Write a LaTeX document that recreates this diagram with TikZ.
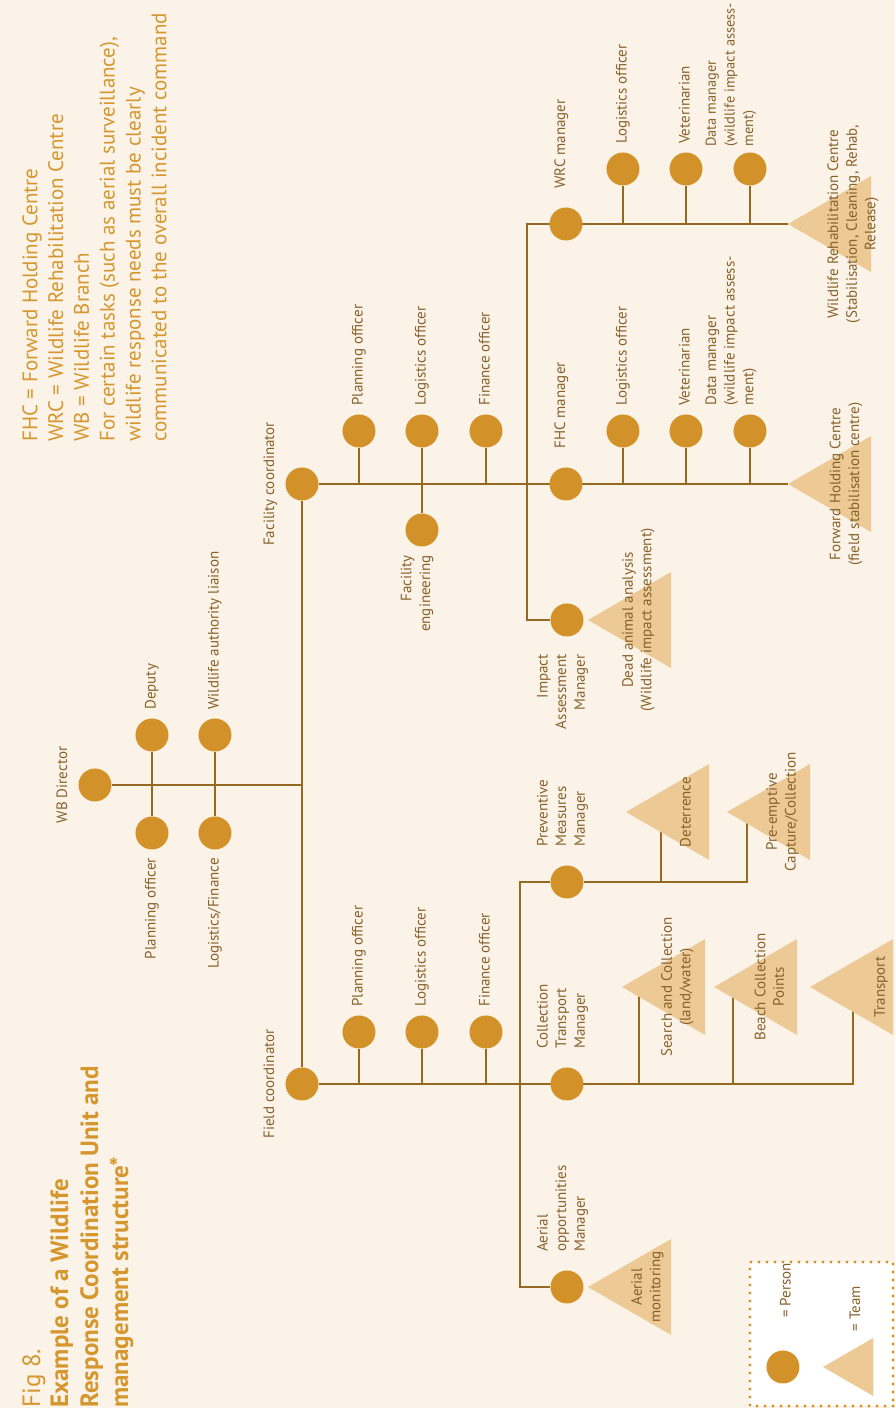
\documentclass[tikz,border=0pt]{standalone}
\usepackage{fontspec}
\setmainfont{PT Sans}
\usepackage{tikz}
\usetikzlibrary{positioning}
\usetikzlibrary{shapes}

\definecolor{paper}{HTML}{FCF3E8}
\definecolor{dot}{HTML}{D39229}
\definecolor{teamfill}{HTML}{ECC995}
\definecolor{wire}{HTML}{946A22}
\definecolor{ink}{HTML}{86612A}
\definecolor{gold}{HTML}{D5962E}

\pgfdeclarelayer{back}
\pgfsetlayers{back,main}

\tikzset{
  person/.style={circle, fill=dot, minimum size=16.5pt, inner sep=0pt},
  team/.style={regular polygon, regular polygon sides=3, fill=teamfill, minimum size=55.4pt, inner sep=0pt, outer sep=0pt},
  link/.style={draw=wire, line width=1.4pt},
  lbl/.style={text=ink, font=\fontsize{7.5}{9.3}\selectfont, inner sep=1pt, text height=5.6pt, text depth=1.9pt},
  mlbl/.style={text=ink, font=\fontsize{7.5}{9.3}\selectfont, inner sep=1pt},
  tlbl/.style={text=ink, font=\fontsize{7.5}{9.3}\selectfont, inner sep=0pt, align=center},
  title/.style={text=gold, font=\fontsize{12.5}{15}\selectfont, inner sep=0pt, align=left},
  note/.style={text=gold, font=\fontsize{10.5}{12.9}\selectfont, inner sep=0pt, align=left},
  legbox/.style={fill=white, draw=dot, line width=1.6pt, line cap=round, dash pattern=on 0pt off 4pt},
}

\begin{document}
\begin{tikzpicture}[rotate=90, transform shape, x=0.5pt, y=0.5pt]
  \useasboundingbox (0,0) rectangle (1408,895);

  % heading and notes
  \node[title, anchor=north west] (Title) at (0,873) {Fig 8.\\[-1pt]\textbf{Example of a Wildlife}\\\textbf{Response Coordination Unit and}\\\textbf{management structure*}};
  \node[note, anchor=north west] (Notes) at (966,873) {FHC = Forward Holding Centre\\WRC = Wildlife Rehabilitation Centre\\WB = Wildlife Branch\\For certain tasks (such as aerial surveillance),\\wildlife response needs must be clearly\\communicated to the overall incident command};

  % wildlife branch
  \node[person] (WBD) at (623,800) {};
  \node[person] (Deputy) at (673,743) {};
  \node[person] (PlanWB) at (575,743) {};
  \node[person] (Liaison) at (673,680) {};
  \node[person] (LogFinWB) at (575,680) {};
  \node[person] (FacC) at (924,593) {};
  \node[person] (FieldC) at (324,593) {};

  \node[lbl, above=2.4pt of WBD] (WBDl) {WB Director};
  \node[lbl, right=3pt of Deputy] (Deputyl) {Deputy};
  \node[lbl, right=3pt of Liaison] (Liaisonl) {Wildlife authority liaison};
  \node[lbl, left=3pt of PlanWB] (PlanWBl) {Planning officer};
  \node[lbl, left=3pt of LogFinWB] (LogFinWBl) {Logistics/Finance};
  \node[lbl, above=2.4pt of FacC] (FacCl) {Facility coordinator};
  \node[lbl, above=2.4pt of FieldC] (FieldCl) {Field coordinator};

  % facility side
  \node[person] (FacPlan) at (977,536) {};
  \node[person] (FacLog) at (977,473) {};
  \node[person] (FacFin) at (977,409) {};
  \node[person] (FacEng) at (878,473) {};
  \node[lbl, right=3pt of FacPlan] (FacPlanl) {Planning officer};
  \node[lbl, right=3pt of FacLog] (FacLogl) {Logistics officer};
  \node[lbl, right=3pt of FacFin] (FacFinl) {Finance officer};
  \node[mlbl, align=right, left=3pt of FacEng, yshift=2.5pt] (FacEngl) {Facility\\engineering};

  \node[person] (WRCM) at (1184,329) {};
  \node[person] (WRCLog) at (1239,272) {};
  \node[person] (WRCVet) at (1239,209) {};
  \node[person] (WRCData) at (1239,145) {};
  \node[team, anchor=north] (WRC) at (1184,107) {};
  \node[lbl, right=8pt of WRCM, yshift=2.25pt] (WRCMl) {WRC manager};
  \node[lbl, right=3pt of WRCLog] (WRCLogl) {Logistics officer};
  \node[lbl, right=3pt of WRCVet] (WRCVetl) {Veterinarian};
  \node[mlbl, align=left, right=1.5pt of WRCData, yshift=9.5pt, font=\fontsize{7.2}{9.3}\selectfont] (WRCDatal) {Data manager\\(wildlife impact assess-\\ment)};
  \node[tlbl, yshift=-4.85pt] (WRCl) at (WRC.center) {Wildlife Rehabilitation Centre\\(Stabilisation, Cleaning, Rehab,\\Release)};

  \node[person] (FHCM) at (924,329) {};
  \node[person] (FHCLog) at (977,272) {};
  \node[person] (FHCVet) at (977,209) {};
  \node[person] (FHCData) at (977,145) {};
  \node[team, anchor=north] (FHC) at (924,107) {};
  \node[lbl, right=8pt of FHCM, yshift=2.25pt] (FHCMl) {FHC manager};
  \node[lbl, right=3pt of FHCLog] (FHCLogl) {Logistics officer};
  \node[lbl, right=3pt of FHCVet] (FHCVetl) {Veterinarian};
  \node[mlbl, align=left, right=3pt of FHCData, yshift=9.5pt] (FHCDatal) {Data manager\\(wildlife impact assess-\\ment)};
  \node[tlbl, yshift=-1.35pt] (FHCl) at (FHC.center) {Forward Holding Centre\\(field stabilisation centre)};

  \node[person] (IAM) at (788,328) {};
  \node[team, anchor=north] (IA) at (788,307) {};
  \node[mlbl, align=right, left=7.5pt of IAM, yshift=2.25pt] (IAMl) {Impact\\Assessment\\Manager};
  \node[tlbl, yshift=2.45pt] (IAl) at (IA.center) {Dead animal analysis\\(Wildlife impact assessment)};

  % field side
  \node[person] (FldPlan) at (376,536) {};
  \node[person] (FldLog) at (376,473) {};
  \node[person] (FldFin) at (376,409) {};
  \node[lbl, right=3pt of FldPlan] (FldPlanl) {Planning officer};
  \node[lbl, right=3pt of FldLog] (FldLogl) {Logistics officer};
  \node[lbl, right=3pt of FldFin] (FldFinl) {Finance officer};

  \node[person] (PMM) at (526,328) {};
  \node[team, anchor=north] (Deter) at (596,269) {};
  \node[team, anchor=north] (Preempt) at (596,168) {};
  \node[mlbl, align=left, right=8pt of PMM, yshift=2.25pt] (PMMl) {Preventive\\Measures\\Manager};
  \node[tlbl, yshift=-2pt] (Deterl) at (Deter.center) {Deterrence};
  \node[tlbl] (Preemptl) at (Preempt.center) {Pre-emptive\\Capture/Collection};

  \node[person] (CTM) at (324,328) {};
  \node[team, anchor=north] (Search) at (421,273) {};
  \node[team, anchor=north] (Beach) at (421,181) {};
  \node[team, anchor=north] (Transp) at (421,85) {};
  \node[mlbl, align=left, right=8pt of CTM, yshift=2.25pt] (CTMl) {Collection\\Transport\\Manager};
  \node[tlbl] (Searchl) at (Search.center) {Search and Collection\\(land/water)};
  \node[tlbl] (Beachl) at (Beach.center) {Beach Collection\\Points};
  \node[tlbl, yshift=-7.8pt] (Transpl) at (Transp.center) {Transport};

  \node[person] (AOM) at (121,328) {};
  \node[team, anchor=north] (Aerial) at (121,307) {};
  \node[mlbl, align=left, right=8pt of AOM, yshift=2.25pt] (AOMl) {Aerial\\opportunities\\Manager};
  \node[tlbl, yshift=-2pt] (Aeriall) at (Aerial.center) {Aerial\\monitoring};

  % bends and stems
  \coordinate (wrcbus) at (1184,368);
  \coordinate (iabus) at (788,368);
  \coordinate (pmbus) at (526,375);
  \coordinate (aerbus) at (121,375);
  \coordinate (fldend) at (324,42);
  \coordinate (pmend) at (526,148);
  \coordinate (dstem) at (526,234);
  \coordinate (sstem) at (324,256);
  \coordinate (bstem) at (324,162);

  % key
  \draw[legbox] (2,2) rectangle (146,145);
  \node[person] (LegP) at (41,112) {};
  \node[team, minimum size=33.5pt, anchor=north] (LegT) at (41,72) {};
  \node[lbl, right=15pt of LegP, yshift=-2pt] (LegPl) {= Person};
  \node[lbl, right=7pt of LegT] (LegTl) {= Team};

  \begin{pgfonlayer}{back}
    \fill[paper] (0,0) rectangle (1408,895);
    \draw[link] (WBD) -- (WBD |- FacC);
    \draw[link] (FieldC) -- (FacC);
    \draw[link] (Deputy) -- (PlanWB);
    \draw[link] (Liaison) -- (LogFinWB);

    \draw[link] (FacC) -- (FHC);
    \draw[link] (FacPlan) -- (FacC |- FacPlan);
    \draw[link] (FacLog) -- (FacEng);
    \draw[link] (FacFin) -- (FacC |- FacFin);
    \draw[link] (FHCLog) -- (FacC |- FHCLog);
    \draw[link] (FHCVet) -- (FacC |- FHCVet);
    \draw[link] (FHCData) -- (FacC |- FHCData);
    \draw[link] (IAM) -- (iabus) -- (wrcbus) -- (WRC);
    \draw[link] (WRCLog) -- (WRCM |- WRCLog);
    \draw[link] (WRCVet) -- (WRCM |- WRCVet);
    \draw[link] (WRCData) -- (WRCM |- WRCData);

    \draw[link] (FieldC) -- (fldend) -- (fldend -| Transp);
    \draw[link] (FldPlan) -- (FieldC |- FldPlan);
    \draw[link] (FldLog) -- (FieldC |- FldLog);
    \draw[link] (FldFin) -- (FieldC |- FldFin);
    \draw[link] (AOM) -- (aerbus) -- (pmbus) -- (PMM);
    \draw[link] (PMM) -- (pmend) -- (pmend -| Preempt);
    \draw[link] (dstem) -- (dstem -| Deter);
    \draw[link] (sstem) -- (sstem -| Search);
    \draw[link] (bstem) -- (bstem -| Beach);
  \end{pgfonlayer}
\end{tikzpicture}
\end{document}
